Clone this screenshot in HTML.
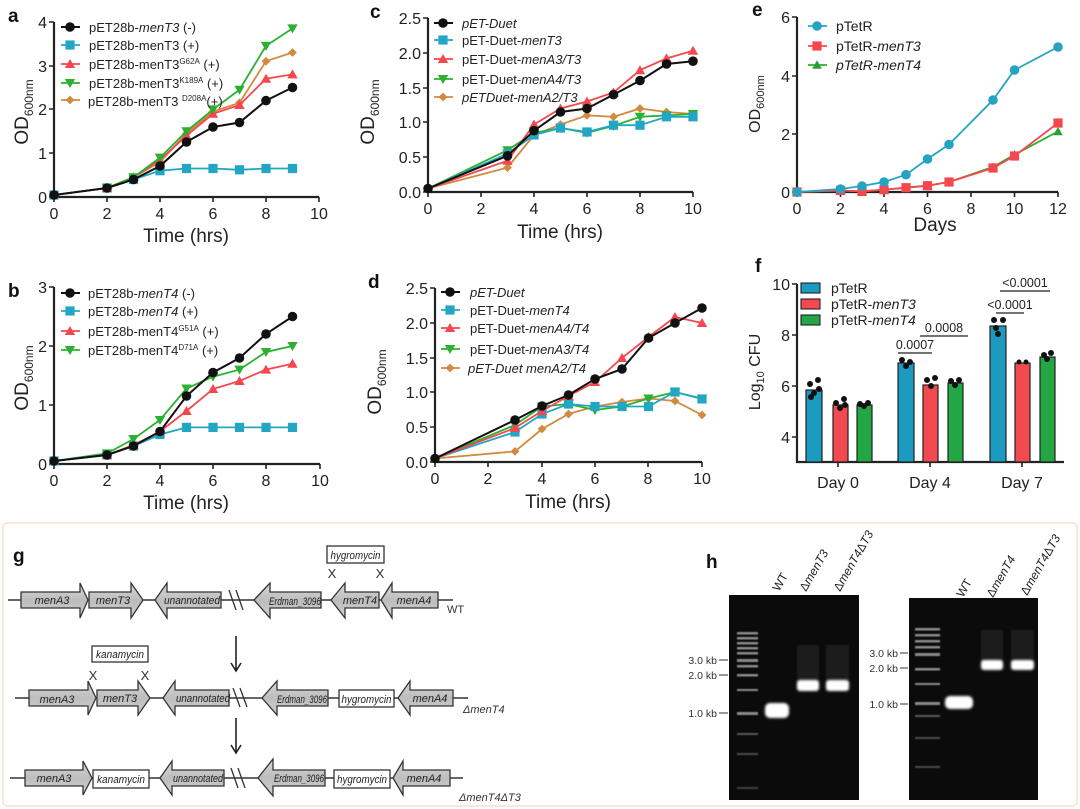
<!DOCTYPE html>
<html><head><meta charset="utf-8"><style>
html,body{margin:0;padding:0;background:#fff}
svg{display:block;font-family:"Liberation Sans",Arial,sans-serif}
</style></head><body>
<svg width="1080" height="809" viewBox="0 0 1080 809" xmlns="http://www.w3.org/2000/svg">
<defs>
<marker id="kC" viewBox="-6 -6 12 12" markerWidth="12" markerHeight="12" markerUnits="userSpaceOnUse"><circle r="4.8" fill="#111"/></marker>
<marker id="cS" viewBox="-6 -6 12 12" markerWidth="12" markerHeight="12" markerUnits="userSpaceOnUse"><rect x="-4.6" y="-4.6" width="9.2" height="9.2" fill="#22a6c4"/></marker>
<marker id="rT" viewBox="-6 -6 12 12" markerWidth="12" markerHeight="12" markerUnits="userSpaceOnUse"><path d="M0,-5 L5.2,4 L-5.2,4Z" fill="#f4474e"/></marker>
<marker id="gV" viewBox="-6 -6 12 12" markerWidth="12" markerHeight="12" markerUnits="userSpaceOnUse"><path d="M0,5 L5.2,-4 L-5.2,-4Z" fill="#2bb02f"/></marker>
<marker id="oD" viewBox="-6 -6 12 12" markerWidth="12" markerHeight="12" markerUnits="userSpaceOnUse"><path d="M0,-4.4 L4.4,0 L0,4.4 L-4.4,0Z" fill="#d18a3e"/></marker>
<marker id="cC" viewBox="-6 -6 12 12" markerWidth="12" markerHeight="12" markerUnits="userSpaceOnUse"><circle r="4.8" fill="#26a3c2"/></marker>
<marker id="rS" viewBox="-6 -6 12 12" markerWidth="12" markerHeight="12" markerUnits="userSpaceOnUse"><rect x="-4.6" y="-4.6" width="9.2" height="9.2" fill="#f4474e"/></marker>
<marker id="gT" viewBox="-6 -6 12 12" markerWidth="12" markerHeight="12" markerUnits="userSpaceOnUse"><path d="M0,-4.6 L4.8,3.8 L-4.8,3.8Z" fill="#2a9d35"/></marker>
<linearGradient id="gg" x1="0" y1="0" x2="0" y2="1"><stop offset="0" stop-color="#d8d8d8"/><stop offset="0.5" stop-color="#bdbdbd"/><stop offset="1" stop-color="#cfcfcf"/></linearGradient>
<filter id="bl"><feGaussianBlur stdDeviation="1.2"/></filter>
<filter id="bl2"><feGaussianBlur stdDeviation="0.6"/></filter>
</defs>
<style>
.ax{stroke:#222;stroke-width:2.2;fill:none}
.t{font-size:16px;fill:#222}
.tt{font-size:19px;fill:#222}
.lg{font-size:13px;fill:#222}
.pl{font-size:19px;font-weight:bold;fill:#111}
.k{stroke:#111;stroke-width:2;fill:none}
.c{stroke:#22a6c4;stroke-width:1.8;fill:none}
.r{stroke:#f4474e;stroke-width:1.8;fill:none}
.g{stroke:#2bb02f;stroke-width:1.8;fill:none}
.o{stroke:#d18a3e;stroke-width:1.8;fill:none}
.gn{fill:url(#gg);stroke:#333;stroke-width:1.3}
.gt{font-size:11px;font-style:italic;fill:#222}
.bx{fill:#fff;stroke:#333;stroke-width:1.3}
</style>

<!-- ===== panel a ===== -->
<text x="8" y="22" class="pl">a</text>
<path class="ax" d="M54,22 V197 H319"/>
<g stroke="#222" stroke-width="1.6"><path d="M49,22H54M49,66H54M49,109H54M49,153H54M49,197H54M54,197v5M107,197v5M160,197v5M213,197v5M266,197v5M319,197v5"/></g>
<g class="t" text-anchor="end"><text x="47" y="28">4</text><text x="47" y="72">3</text><text x="47" y="115">2</text><text x="47" y="159">1</text><text x="47" y="203">0</text></g>
<g class="t" text-anchor="middle"><text x="54" y="219">0</text><text x="107" y="219">2</text><text x="160" y="219">4</text><text x="213" y="219">6</text><text x="266" y="219">8</text><text x="319" y="219">10</text></g>
<text x="186" y="242" class="tt" text-anchor="middle">Time (hrs)</text>
<text transform="translate(28,112) rotate(-90)" class="tt" text-anchor="middle">OD<tspan font-size="12" dy="5">600nm</tspan></text>
<polyline class="c" marker-start="url(#cS)" marker-mid="url(#cS)" marker-end="url(#cS)" points="54,195 107,188 133.5,179.5 160,170.7 186.5,168.5 213,168.5 239.5,169.8 266,168.5 292.5,168.5"/>
<polyline class="o" marker-mid="url(#oD)" marker-end="url(#oD)" points="54,195 107,188 133.5,177.3 160,162 186.5,133.5 213,111.6 239.5,102.8 266,61.2 292.5,52.5"/>
<polyline class="r" marker-mid="url(#rT)" marker-end="url(#rT)" points="54,195 107,188 133.5,177.3 160,159.8 186.5,135.7 213,113.8 239.5,105 266,78.7 292.5,74.4"/>
<polyline class="g" marker-mid="url(#gV)" marker-end="url(#gV)" points="54,195 107,188 133.5,177.3 160,157.6 186.5,131.3 213,109.4 239.5,89.7 266,45.9 292.5,28.4"/>
<polyline class="k" marker-start="url(#kC)" marker-mid="url(#kC)" marker-end="url(#kC)" points="54,195 107,188 133.5,179.5 160,166 186.5,142 213,127 239.5,122.5 266,100.6 292.5,87.5"/>
<polyline class="k" marker-mid="url(#kC)" points="61,27 70,27 80,27"/>
<polyline class="c" marker-mid="url(#cS)" points="61,45 70,45 80,45"/>
<polyline class="r" marker-mid="url(#rT)" points="61,64 70,64 80,64"/>
<polyline class="g" marker-mid="url(#gV)" points="61,83 70,83 80,83"/>
<polyline class="o" marker-mid="url(#oD)" points="61,100 70,100 80,100"/>
<g class="lg"><text x="89" y="32">pET28b-<tspan font-style="italic">menT3</tspan> (-)</text>
<text x="89" y="50">pET28b-menT3 (+)</text>
<text x="89" y="69">pET28b-menT3<tspan font-size="8" dy="-5">G62A</tspan><tspan dy="5"> (+)</tspan></text>
<text x="89" y="88">pET28b-menT3<tspan font-size="8" dy="-5">K189A</tspan><tspan dy="5"> (+)</tspan></text>
<text x="88" y="106">pET28b-menT3 <tspan font-size="8" dy="-5">D208A</tspan><tspan dy="5">(+)</tspan></text></g>

<!-- ===== panel b ===== -->
<text x="8" y="297" class="pl">b</text>
<path class="ax" d="M54,287 V464 H320"/>
<g stroke="#222" stroke-width="1.6"><path d="M49,287H54M49,346H54M49,405H54M49,464H54M54,464v5M107,464v5M160,464v5M213,464v5M266,464v5M320,464v5"/></g>
<g class="t" text-anchor="end"><text x="47" y="293">3</text><text x="47" y="352">2</text><text x="47" y="411">1</text><text x="47" y="470">0</text></g>
<g class="t" text-anchor="middle"><text x="54" y="486">0</text><text x="107" y="486">2</text><text x="160" y="486">4</text><text x="213" y="486">6</text><text x="266" y="486">8</text><text x="320" y="486">10</text></g>
<text x="186" y="509" class="tt" text-anchor="middle">Time (hrs)</text>
<text transform="translate(28,378) rotate(-90)" class="tt" text-anchor="middle">OD<tspan font-size="12" dy="5">600nm</tspan></text>
<polyline class="c" marker-start="url(#cS)" marker-mid="url(#cS)" marker-end="url(#cS)" points="54,461 107,455 133.5,446 160,434.5 186.5,427.4 213,427.4 239.5,427.4 266,427.4 292.5,427.4"/>
<polyline class="r" marker-mid="url(#rT)" marker-end="url(#rT)" points="54,461 107,455 133.5,445 160,431.5 186.5,411 213,389 239.5,381 266,369.6 292.5,363.7"/>
<polyline class="g" marker-mid="url(#gV)" marker-end="url(#gV)" points="54,461 107,453.4 133.5,439 160,420 186.5,388.5 213,376.7 239.5,369.6 266,352 292.5,346"/>
<polyline class="k" marker-start="url(#kC)" marker-mid="url(#kC)" marker-end="url(#kC)" points="54,461 107,455 133.5,446 160,431.5 186.5,396 213,372.5 239.5,358 266,334 292.5,316.5"/>
<polyline class="k" marker-mid="url(#kC)" points="61,293 70,293 80,293"/>
<polyline class="c" marker-mid="url(#cS)" points="61,311 70,311 80,311"/>
<polyline class="r" marker-mid="url(#rT)" points="61,331 70,331 80,331"/>
<polyline class="g" marker-mid="url(#gV)" points="61,350 70,350 80,350"/>
<g class="lg"><text x="88" y="298">pET28b-<tspan font-style="italic">menT4</tspan> (-)</text>
<text x="88" y="316">pET28b-<tspan font-style="italic">menT4</tspan> (+)</text>
<text x="88" y="336">pET28b-menT4<tspan font-size="8" dy="-5">G51A</tspan><tspan dy="5"> (+)</tspan></text>
<text x="88" y="355">pET28b-menT4<tspan font-size="8" dy="-5">D71A</tspan><tspan dy="5"> (+)</tspan></text></g>

<!-- ===== panel c ===== -->
<text x="370" y="18" class="pl">c</text>
<path class="ax" d="M428,18 V192 H693"/>
<g stroke="#222" stroke-width="1.6"><path d="M423,18H428M423,53H428M423,88H428M423,122H428M423,157H428M423,192H428M428,192v5M481,192v5M534,192v5M587,192v5M640,192v5M693,192v5"/></g>
<g class="t" text-anchor="end"><text x="421" y="24">2.5</text><text x="421" y="59">2.0</text><text x="421" y="94">1.5</text><text x="421" y="128">1.0</text><text x="421" y="163">0.5</text><text x="421" y="198">0.0</text></g>
<g class="t" text-anchor="middle"><text x="428" y="214">0</text><text x="481" y="214">2</text><text x="534" y="214">4</text><text x="587" y="214">6</text><text x="640" y="214">8</text><text x="693" y="214">10</text></g>
<text x="560" y="238" class="tt" text-anchor="middle">Time (hrs)</text>
<text transform="translate(374,112) rotate(-90)" class="tt" text-anchor="middle">OD<tspan font-size="12" dy="5">600nm</tspan></text>
<polyline class="o" marker-mid="url(#oD)" marker-end="url(#oD)" points="428,188.5 507.5,167.6 534,135 560.5,124.5 587,115.4 613.5,116.8 640,108.5 666.5,112 693,114"/>
<polyline class="g" marker-mid="url(#gV)" marker-end="url(#gV)" points="428,188.5 507.5,150.2 534,132.8 560.5,128 587,132.8 613.5,125.9 640,116.8 666.5,115.4 693,114"/>
<polyline class="c" marker-mid="url(#cS)" marker-end="url(#cS)" points="428,188.5 507.5,153.7 534,135 560.5,128 587,132 613.5,125.2 640,125.2 666.5,116.8 693,116.8"/>
<polyline class="r" marker-mid="url(#rT)" marker-end="url(#rT)" points="428,188.5 507.5,160.7 534,124.5 560.5,108.5 587,101.5 613.5,92.5 640,70.2 666.5,58.4 693,50.7"/>
<polyline class="k" marker-start="url(#kC)" marker-mid="url(#kC)" marker-end="url(#kC)" points="428,188.5 507.5,155.8 534,130.7 560.5,112 587,108.5 613.5,94.6 640,80.6 666.5,64 693,61.2"/>
<polyline class="k" marker-mid="url(#kC)" points="434,23 443,23 453,23"/>
<polyline class="c" marker-mid="url(#cS)" points="434,40 443,40 453,40"/>
<polyline class="r" marker-mid="url(#rT)" points="434,59 443,59 453,59"/>
<polyline class="g" marker-mid="url(#gV)" points="434,79 443,79 453,79"/>
<polyline class="o" marker-mid="url(#oD)" points="434,97 443,97 453,97"/>
<g class="lg"><text x="462" y="28" font-style="italic">pET-Duet</text>
<text x="462" y="45">pET-Duet-<tspan font-style="italic">menT3</tspan></text>
<text x="462" y="64">pET-Duet-<tspan font-style="italic">menA3/T3</tspan></text>
<text x="462" y="84">pET-Duet-<tspan font-style="italic">menA4/T3</tspan></text>
<text x="462" y="102" font-style="italic">pETDuet-menA2/T3</text></g>

<!-- ===== panel d ===== -->
<text x="368" y="288" class="pl">d</text>
<path class="ax" d="M435,288 V462 H702"/>
<g stroke="#222" stroke-width="1.6"><path d="M430,288H435M430,323H435M430,358H435M430,392H435M430,427H435M430,462H435M435,462v5M488,462v5M542,462v5M595,462v5M648,462v5M702,462v5"/></g>
<g class="t" text-anchor="end"><text x="428" y="294">2.5</text><text x="428" y="329">2.0</text><text x="428" y="364">1.5</text><text x="428" y="398">1.0</text><text x="428" y="433">0.5</text><text x="428" y="468">0.0</text></g>
<g class="t" text-anchor="middle"><text x="435" y="484">0</text><text x="488" y="484">2</text><text x="542" y="484">4</text><text x="595" y="484">6</text><text x="648" y="484">8</text><text x="702" y="484">10</text></g>
<text x="568" y="508" class="tt" text-anchor="middle">Time (hrs)</text>
<text transform="translate(381,382) rotate(-90)" class="tt" text-anchor="middle">OD<tspan font-size="12" dy="5">600nm</tspan></text>
<polyline class="o" marker-mid="url(#oD)" marker-end="url(#oD)" points="435,458.5 515,451.4 542,429 568.5,414 595,406.5 622,402 648.5,398.5 675,401 702,415"/>
<polyline class="g" marker-mid="url(#gV)" marker-end="url(#gV)" points="435,458.5 515,425 542,406.5 568.5,404 595,410 622,406.5 648.5,398.5 675,392 702,398.5"/>
<polyline class="c" marker-mid="url(#cS)" marker-end="url(#cS)" points="435,458.5 515,432 542,414 568.5,404 595,406.5 622,406.5 648.5,406.5 675,392 702,399"/>
<polyline class="r" marker-mid="url(#rT)" marker-end="url(#rT)" points="435,458.5 515,428 542,411 568.5,396 595,382 622,358 648.5,337 675,317 702,323"/>
<polyline class="k" marker-start="url(#kC)" marker-mid="url(#kC)" marker-end="url(#kC)" points="435,458.5 515,420 542,406 568.5,395 595,379 622,369 648.5,338 675,323 702,308"/>
<polyline class="k" marker-mid="url(#kC)" points="441,292 450,292 460,292"/>
<polyline class="c" marker-mid="url(#cS)" points="441,310 450,310 460,310"/>
<polyline class="r" marker-mid="url(#rT)" points="441,328 450,328 460,328"/>
<polyline class="g" marker-mid="url(#gV)" points="441,349 450,349 460,349"/>
<polyline class="o" marker-mid="url(#oD)" points="441,368 450,368 460,368"/>
<g class="lg"><text x="470" y="297" font-style="italic">pET-Duet</text>
<text x="470" y="315">pET-Duet-<tspan font-style="italic">menT4</tspan></text>
<text x="470" y="333">pET-Duet-<tspan font-style="italic">menA4/T4</tspan></text>
<text x="470" y="354">pET-Duet-<tspan font-style="italic">menA3/T4</tspan></text>
<text x="468" y="373" font-style="italic">pET-Duet menA2/T4</text></g>

<!-- ===== panel e ===== -->
<text x="752" y="16" class="pl">e</text>
<path class="ax" d="M797,17 V192 H1058"/>
<g stroke="#222" stroke-width="1.6"><path d="M792,17H797M792,76H797M792,134H797M792,192H797M797,192v5M840.5,192v5M884,192v5M927.5,192v5M971,192v5M1014.5,192v5M1058,192v5"/></g>
<g class="t" text-anchor="end"><text x="790" y="23">6</text><text x="790" y="82">4</text><text x="790" y="140">2</text><text x="790" y="198">0</text></g>
<g class="t" text-anchor="middle"><text x="797" y="214">0</text><text x="840.5" y="214">2</text><text x="884" y="214">4</text><text x="927.5" y="214">6</text><text x="971" y="214">8</text><text x="1014.5" y="214">10</text><text x="1058" y="214">12</text></g>
<text x="935" y="231" class="tt" text-anchor="middle">Days</text>
<text transform="translate(760,104) rotate(-90)" font-size="16" fill="#222" text-anchor="middle">OD<tspan font-size="11" dy="4">600nm</tspan></text>
<polyline class="g" stroke="#2a9d35" marker-mid="url(#gT)" marker-end="url(#gT)" points="797,192 840.5,190.5 862,191.4 884,189.7 906,187.7 927.5,185.7 949,182 993,167 1014.5,154.6 1058,131.5"/>
<polyline class="r" marker-start="url(#rS)" marker-mid="url(#rS)" marker-end="url(#rS)" points="797,192 840.5,190.5 862,191.4 884,189.7 906,187.7 927.5,185.7 949,182 993,168 1014.5,156 1058,123"/>
<polyline class="c" stroke="#26a3c2" marker-start="url(#cC)" marker-mid="url(#cC)" marker-end="url(#cC)" points="797,192 840.5,189 862,186 884,182 906,174.7 927.5,159 949,144.5 993,100 1014.5,70 1058,47"/>
<polyline class="c" stroke="#26a3c2" marker-mid="url(#cC)" points="808,26 817,26 827,26"/>
<polyline class="r" marker-mid="url(#rS)" points="808,46 817,46 827,46"/>
<polyline class="g" stroke="#2a9d35" marker-mid="url(#gT)" points="808,65 817,65 827,65"/>
<g font-size="14" fill="#222"><text x="836" y="31">pTetR</text><text x="836" y="51">pTetR-<tspan font-style="italic">menT3</tspan></text><text x="836" y="70" font-style="italic">pTetR-menT4</text></g>

<!-- ===== panel f ===== -->
<text x="755" y="272" class="pl">f</text>
<path class="ax" d="M797,284 V462 H1064"/>
<g stroke="#222" stroke-width="1.6"><path d="M792,284H797M792,335H797M792,386H797M792,437H797M838,462v5M930,462v5M1022,462v5"/></g>
<g class="t" text-anchor="end"><text x="790" y="290">10</text><text x="790" y="341">8</text><text x="790" y="392">6</text><text x="790" y="443">4</text></g>
<g class="t" text-anchor="middle"><text x="838" y="488">Day 0</text><text x="930" y="488">Day 4</text><text x="1022" y="488">Day 7</text></g>
<text transform="translate(760,372) rotate(-90)" font-size="16" fill="#222" text-anchor="middle">Log<tspan font-size="11" dy="4">10</tspan><tspan dy="-4"> CFU</tspan></text>
<g stroke="#222" stroke-width="1.2">
<rect x="806" y="390" width="16" height="72" fill="#1b9bc0"/>
<rect x="833" y="405" width="15" height="57" fill="#f24a50"/>
<rect x="857" y="405" width="15" height="57" fill="#23a744"/>
<rect x="898" y="363" width="16" height="99" fill="#1b9bc0"/>
<rect x="923" y="385" width="15" height="77" fill="#f24a50"/>
<rect x="948" y="383" width="15" height="79" fill="#23a744"/>
<rect x="990" y="326" width="16" height="136" fill="#1b9bc0"/>
<rect x="1015" y="363" width="15" height="99" fill="#f24a50"/>
<rect x="1040" y="357" width="15" height="105" fill="#23a744"/>
</g>
<g fill="#111">
<circle cx="810" cy="384" r="3"/><circle cx="818" cy="380" r="3"/><circle cx="814" cy="393" r="3"/><circle cx="811" cy="397" r="3"/><circle cx="819" cy="389" r="3"/>
<circle cx="836" cy="403" r="3"/><circle cx="844" cy="399" r="3"/><circle cx="840" cy="408" r="3"/><circle cx="845" cy="405" r="3"/>
<circle cx="860" cy="404" r="3"/><circle cx="868" cy="403" r="3"/><circle cx="864" cy="406" r="3"/>
<circle cx="902" cy="360" r="3"/><circle cx="910" cy="362" r="3"/><circle cx="906" cy="366" r="3"/>
<circle cx="927" cy="380" r="3"/><circle cx="935" cy="378" r="3"/><circle cx="931" cy="386" r="3"/>
<circle cx="951" cy="381" r="3"/><circle cx="959" cy="380" r="3"/><circle cx="955" cy="385" r="3"/>
<circle cx="994" cy="320" r="3"/><circle cx="1003" cy="320" r="3"/><circle cx="998" cy="334" r="3"/><circle cx="996" cy="328" r="3"/>
<circle cx="1019" cy="362" r="2.5"/><circle cx="1026" cy="362" r="2.5"/>
<circle cx="1044" cy="355" r="3"/><circle cx="1051" cy="353" r="3"/><circle cx="1047" cy="359" r="3"/>
</g>
<g stroke="#222" stroke-width="1.3"><path d="M898,353H932M920,336H968M996,313H1024M1000,291H1050"/></g>
<g font-size="12.5" fill="#222" text-anchor="middle"><text x="915" y="349">0.0007</text><text x="944" y="332">0.0008</text><text x="1010" y="309">&lt;0.0001</text><text x="1025" y="287">&lt;0.0001</text></g>
<g stroke="#222" stroke-width="1.1"><rect x="801" y="283" width="19" height="10" fill="#1b9bc0"/><rect x="801" y="299" width="19" height="10" fill="#f24a50"/><rect x="801" y="315" width="19" height="10" fill="#23a744"/></g>
<g font-size="14" fill="#222"><text x="831" y="293">pTetR</text><text x="831" y="309">pTetR-<tspan font-style="italic">menT3</tspan></text><text x="831" y="325">pTetR-<tspan font-style="italic">menT4</tspan></text></g>

<!-- ===== lower frame ===== -->
<rect x="3" y="523" width="1074" height="283" rx="4" fill="none" stroke="#f6e9dc" stroke-width="2"/>

<!-- ===== panel g ===== -->
<text x="13" y="562" class="pl">g</text>
<g stroke="#333" stroke-width="1.5">
<path d="M8,600H453M15,698H468M10,778H463"/>
</g>
<path class="gn" d="M21,592H80V583L88,600L80,618V608H21Z"/>
<path class="gn" d="M89,592H131V583L143,600L131,618V608H89Z"/>
<path class="gn" d="M221,592H167V583L155,600L167,618V608H221Z"/>
<path class="gn" d="M321,592H270V583L254,600L270,618V608H321Z"/>
<path class="gn" d="M379,592H345V583L331,600L345,618V608H379Z"/>
<path class="gn" d="M438,592H392V583L381,600L392,618V608H438Z"/>
<g class="gt" text-anchor="middle"><text x="52" y="604">menA3</text><text x="113" y="604">menT3</text><text x="192" y="604" textLength="56" lengthAdjust="spacingAndGlyphs">unannotated</text><text x="295" y="605" textLength="52" lengthAdjust="spacingAndGlyphs">Erdman_3096</text><text x="360" y="604">menT4</text><text x="414" y="604">menA4</text></g>
<rect class="bx" x="327" y="546" width="57" height="17"/><text x="355.5" y="559" class="gt" text-anchor="middle" textLength="50" lengthAdjust="spacingAndGlyphs">hygromycin</text>
<g font-size="13" fill="#333" text-anchor="middle"><text x="332" y="578">X</text><text x="380" y="578">X</text></g>
<text x="447" y="613" font-size="11" fill="#333">WT</text>
<path d="M236,636V670M231,663L236,671L241,663" stroke="#222" stroke-width="1.6" fill="none"/>
<path class="gn" d="M29,690H88V681L96,698L88,715V706H29Z"/>
<path class="gn" d="M97,690H138V681L150,698L138,715V706H97Z"/>
<path class="gn" d="M229,690H175V681L163,698L175,715V706H229Z"/>
<path class="gn" d="M328,690H277V681L262,698L277,715V706H328Z"/>
<rect class="bx" x="339" y="690" width="55" height="17"/>
<path class="gn" d="M453,690H410V681L398,698L410,715V706H453Z"/>
<g class="gt" text-anchor="middle"><text x="57" y="703">menA3</text><text x="120" y="702">menT3</text><text x="203" y="702" textLength="54" lengthAdjust="spacingAndGlyphs">unannotated</text><text x="302" y="703" textLength="50" lengthAdjust="spacingAndGlyphs">Erdman_3096</text><text x="366.5" y="703" textLength="50" lengthAdjust="spacingAndGlyphs">hygromycin</text><text x="430" y="702">menA4</text></g>
<rect class="bx" x="92" y="646" width="56" height="16"/><text x="120" y="658" class="gt" text-anchor="middle" textLength="48" lengthAdjust="spacingAndGlyphs">kanamycin</text>
<g font-size="13" fill="#333" text-anchor="middle"><text x="93" y="680">X</text><text x="145" y="680">X</text></g>
<text x="463" y="713" font-size="11" fill="#333" font-style="italic">ΔmenT4</text>
<path d="M236,718V752M231,745L236,753L241,745" stroke="#222" stroke-width="1.6" fill="none"/>
<path class="gn" d="M25,770H83V761L92,778L83,795V786H25Z"/>
<rect class="bx" x="93" y="770" width="56" height="18"/>
<path class="gn" d="M224,770H172V761L160,778L172,795V786H224Z"/>
<path class="gn" d="M325,770H273V759L258,778L273,796V786H325Z"/>
<rect class="bx" x="334" y="770" width="56" height="18"/>
<path class="gn" d="M450,770H403V761L393,778L403,795V786H450Z"/>
<g class="gt" text-anchor="middle"><text x="54" y="782">menA3</text><text x="121" y="783" textLength="48" lengthAdjust="spacingAndGlyphs">kanamycin</text><text x="198" y="782" textLength="50" lengthAdjust="spacingAndGlyphs">unannotated</text><text x="299" y="782" textLength="50" lengthAdjust="spacingAndGlyphs">Erdman_3096</text><text x="362" y="783" textLength="50" lengthAdjust="spacingAndGlyphs">hygromycin</text><text x="424" y="782">menA4</text></g>
<g stroke="#333" stroke-width="1.3"><path d="M233,688L240,707M240,688L247,707M231,768L238,788M238,768L245,788M229,590L236,610M236,590L243,610"/></g>
<text x="459" y="801" font-size="11" fill="#333" font-style="italic">ΔmenT4ΔT3</text>

<!-- ===== panel h ===== -->
<text x="706" y="568" class="pl">h</text>
<rect x="729" y="595" width="130" height="205" fill="#0b0b0b"/>
<rect x="909" y="598" width="129" height="202" fill="#0b0b0b"/>
<g fill="#8a8a8a" filter="url(#bl2)">
<rect x="737" y="632" width="21" height="2.5"/><rect x="737" y="637" width="21" height="2.5"/><rect x="737" y="642" width="21" height="2.5"/><rect x="737" y="647" width="21" height="2.5"/><rect x="737" y="652" width="21" height="2.5"/><rect x="737" y="659" width="21" height="3"/><rect x="737" y="665" width="21" height="2.5"/><rect x="737" y="674" width="21" height="2.5"/><rect x="737" y="689" width="21" height="2"/><rect x="737" y="712" width="21" height="3"/><rect x="737" y="733" width="21" height="2" opacity=".6"/><rect x="737" y="753" width="21" height="2" opacity=".5"/><rect x="737" y="787" width="21" height="2" opacity=".4"/>
<rect x="915" y="628" width="25" height="2.5"/><rect x="915" y="634" width="25" height="2.5"/><rect x="915" y="640" width="25" height="2.5"/><rect x="915" y="646" width="25" height="2.5"/><rect x="915" y="653" width="25" height="3"/><rect x="915" y="668" width="25" height="2.5"/><rect x="915" y="683" width="25" height="2"/><rect x="915" y="702" width="25" height="3"/><rect x="915" y="715" width="25" height="2" opacity=".6"/><rect x="915" y="737" width="25" height="2" opacity=".5"/><rect x="915" y="766" width="25" height="2" opacity=".5"/>
</g>
<g fill="#1e1e1e" filter="url(#bl)"><rect x="797" y="645" width="22" height="40"/><rect x="826" y="645" width="23" height="40"/><rect x="981" y="630" width="22" height="33"/><rect x="1011" y="630" width="23" height="33"/></g>
<g fill="#fff" filter="url(#bl)">
<rect x="765" y="703" width="24" height="15" rx="5"/>
<rect x="797" y="680" width="22" height="11" rx="3"/>
<rect x="826" y="680" width="23" height="11" rx="3"/>
<rect x="945" y="696" width="28" height="13" rx="5"/>
<rect x="981" y="660" width="22" height="10" rx="3"/>
<rect x="1011" y="660" width="23" height="10" rx="3"/>
</g>
<g font-size="10.5" fill="#333" text-anchor="end"><text x="717" y="664">3.0 kb</text><text x="717" y="679">2.0 kb</text><text x="717" y="717">1.0 kb</text>
<text x="898" y="657">3.0 kb</text><text x="898" y="672">2.0 kb</text><text x="898" y="708">1.0 kb</text></g>
<g stroke="#333" stroke-width="1"><path d="M719,660H728M719,675H728M719,713H728M900,653H908M900,668H908M900,704H908"/></g>
<g font-size="12" fill="#222">
<text transform="translate(779,592) rotate(-60)">WT</text>
<text transform="translate(806,592) rotate(-60)">Δ<tspan font-style="italic">menT3</tspan></text>
<text transform="translate(840,592) rotate(-60)">Δ<tspan font-style="italic">menT4</tspan>Δ<tspan font-style="italic">T3</tspan></text>
<text transform="translate(963,598) rotate(-60)">WT</text>
<text transform="translate(993,598) rotate(-60)">Δ<tspan font-style="italic">menT4</tspan></text>
<text transform="translate(1027,596) rotate(-60)">Δ<tspan font-style="italic">menT4</tspan>Δ<tspan font-style="italic">T3</tspan></text>
</g>
</svg>
</body></html>
